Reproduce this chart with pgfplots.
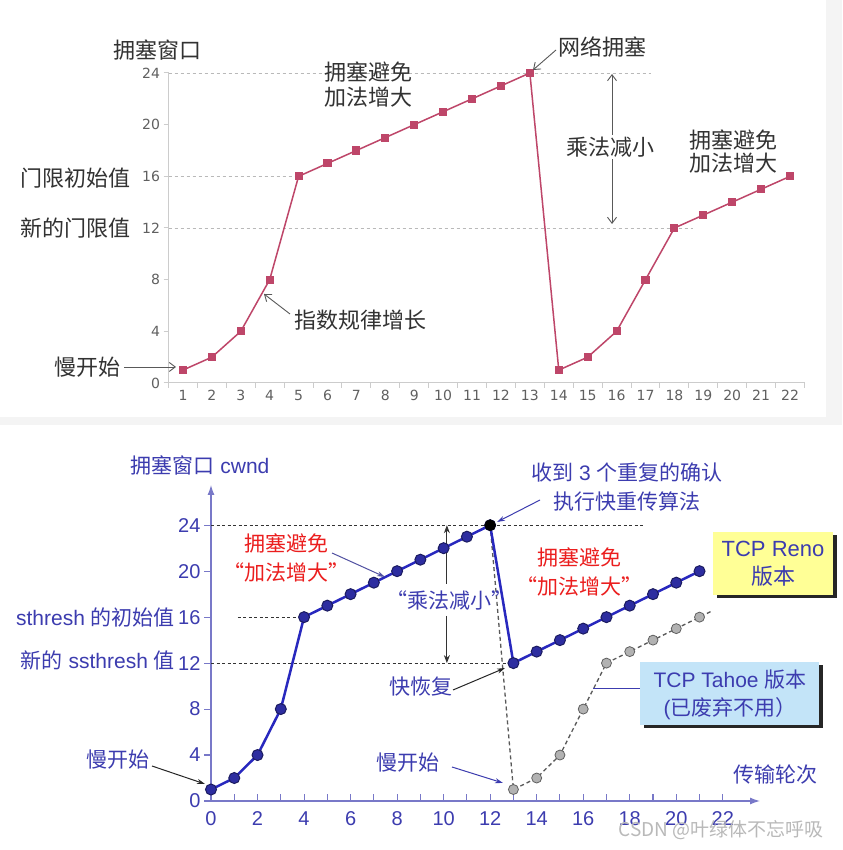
\documentclass[border=0pt]{standalone}
\usepackage{pgfplots}
\pgfplotsset{compat=1.18}
\usetikzlibrary{arrows.meta}
\usepackage{fontspec}
\setmainfont{Liberation Sans}
\newfontfamily\cjk{Noto Sans CJK SC}
\newfontfamily\dvs{DejaVu Sans}
\definecolor{topline}{RGB}{190,70,105}
\definecolor{topgray}{RGB}{50,50,50}
\definecolor{blueT}{RGB}{60,60,175}
\definecolor{redT}{RGB}{235,30,30}
\definecolor{renoline}{RGB}{40,40,190}
\definecolor{renomark}{RGB}{45,45,160}
\definecolor{axisblue}{RGB}{120,120,200}
\definecolor{renobox}{RGB}{255,255,150}
\definecolor{tahoebox}{RGB}{195,228,248}
\begin{document}
\begin{tikzpicture}[x=1pt,y=1pt]
\path[use as bounding box] (0,0) rectangle (842,850);
\fill[white] (0,0) rectangle (842,850);
\fill[gray!9] (0,425) rectangle (842,433);
\fill[gray!9] (826,433) rectangle (842,850);

% ---------------- top chart ----------------
\begin{axis}[at={(168.5pt,467pt)}, anchor=south west, scale only axis,
  width=636pt, height=310pt,
  xmin=0.5, xmax=22.5, ymin=0, ymax=24, clip=false,
  axis x line*=bottom, axis y line*=left,
  axis line style={draw=gray!40, line width=1pt},
  xtick={0.5,1.5,...,22.5}, xticklabels={},
  extra x ticks={1,...,22},
  extra x tick style={major tick length=0pt},
  ytick={0,4,...,24},
  tick align=outside, major tick length=5pt,
  tick style={draw=gray!40, line width=1pt},
  ticklabel style={font=\dvs\fontsize{14}{16}\selectfont, text=gray!75!black},
  /pgf/number format/assume math mode=true,
  xticklabel style={yshift=-4pt},
]
\draw[gray!55, dash pattern=on 3pt off 3pt, line width=0.8pt] (axis cs:0.5,24) -- (axis cs:17.2,24);
\draw[gray!55, dash pattern=on 3pt off 3pt, line width=0.8pt] (axis cs:0.5,16) -- (axis cs:5,16);
\draw[gray!55, dash pattern=on 3pt off 3pt, line width=0.8pt] (axis cs:0.5,12) -- (axis cs:18.65,12);
\addplot[topline, line width=1.5pt, mark=square*, mark size=3.3pt, mark options={fill=topline}]
 coordinates {(1,1)(2,2)(3,4)(4,8)(5,16)(6,17)(7,18)(8,19)(9,20)(10,21)(11,22)(12,23)(13,24)
 (14,1)(15,2)(16,4)(17,8)(18,12)(19,13)(20,14)(21,15)(22,16)};
\end{axis}

\begin{scope}[every node/.style={text=topgray, font=\cjk\fontsize{22}{25}\selectfont, inner sep=1pt}]
\node at (157,800) {拥塞窗口};
\node[anchor=east] at (132,672) {门限初始值};
\node[anchor=east] at (132,622) {新的门限值};
\node[anchor=east] at (122,483) {慢开始};
\node[anchor=west] at (293,530) {指数规律增长};
\node[align=center] at (368,765) {拥塞避免\\加法增大};
\node at (602,803) {网络拥塞};
\node[align=center, font=\cjk\fontsize{22}{23}\selectfont] at (733,698) {拥塞避免\\加法增大};
\end{scope}
\begin{scope}[gray!70!black, line width=0.9pt, -{Straight Barb[length=6pt,width=9pt]}]
\draw (124,483) -- (176,483);
\draw (290,536) -- (264,556);
\draw (556,800) -- (533,780);
\draw[{Straight Barb[length=6pt,width=9pt]}-{Straight Barb[length=6pt,width=9pt]}] (612,776) -- (612,626);
\end{scope}
\node[fill=white, text=topgray, font=\cjk\fontsize{22}{25}\selectfont, inner sep=2pt] at (610,703) {乘法减小};

% ---------------- bottom chart ----------------
\begin{axis}[at={(211pt,49pt)}, anchor=south west, scale only axis,
  width=549pt, height=316pt,
  xmin=0, xmax=23.6, ymin=0, ymax=27.5, clip=false,
  axis x line=bottom, axis y line=left,
  axis line style={draw=axisblue, line width=1.3pt, -{Latex[length=10pt,width=7pt]}},
  xtick={0,...,22},
  xticklabels={0,,2,,4,,6,,8,,10,,12,,14,,16,,18,,20,,22},
  ytick={0,4,...,24},
  tick align=outside, major tick length=7pt,
  tick style={draw=axisblue, line width=1.1pt},
  xtick style={yshift=7pt},
  ticklabel style={font=\fontsize{20}{22}\selectfont, text=blueT},
  /pgf/number format/assume math mode=true,
]
\draw[black!80, dash pattern=on 3pt off 2.5pt, line width=1pt] (axis cs:0,24) -- (axis cs:18.65,24);
\draw[black!80, dash pattern=on 3pt off 2.5pt, line width=1pt] (axis cs:1.16,16) -- (axis cs:3.75,16);
\draw[black!80, dash pattern=on 3pt off 2.5pt, line width=1pt] (axis cs:0,12) -- (axis cs:12.85,12);
\draw[black!80, line width=1pt, {Stealth[length=8pt,width=6pt]}-] (axis cs:10.14,24) -- (axis cs:10.14,18.9);
\draw[black!80, line width=1pt, -{Stealth[length=8pt,width=6pt]}] (axis cs:10.14,16.1) -- (axis cs:10.14,12);
\addplot[gray!70!black, dash pattern=on 4pt off 3pt, line width=1.3pt]
 coordinates {(12,24)(13,1)(14,2)(15,4)(16,8)(17,12)(18,13)(19,14)(20,15)(21,16)(21.5,16.5)};
\addplot[only marks, mark=*, mark size=5pt, mark options={fill=gray!60, draw=gray!75!black, line width=0.8pt}]
 coordinates {(13,1)(14,2)(15,4)(16,8)(17,12)(18,13)(19,14)(20,15)(21,16)};
\addplot[renoline, line width=2.5pt, mark=*, mark size=5.5pt, mark options={fill=renomark, draw=renomark!60!black, line width=1pt}]
 coordinates {(0,1)(1,2)(2,4)(3,8)(4,16)(5,17)(6,18)(7,19)(8,20)(9,21)(10,22)(11,23)(12,24)
 (13,12)(14,13)(15,14)(16,15)(17,16)(18,17)(19,18)(20,19)(21,20)};
\addplot[only marks, mark=*, mark size=5.5pt, mark options={fill=black, draw=black}] coordinates {(12,24)};
\end{axis}

\node[text=blueT, font=\cjk\fontsize{21}{25}\selectfont, inner sep=1pt] at (449,250) {“乘法减小”};

\begin{scope}[every node/.style={text=blueT, font=\fontsize{21}{25}\selectfont, inner sep=1pt}]
\node at (200,385) {{\cjk 拥塞窗口} cwnd};
\node[anchor=east] at (176,233) {sthresh {\cjk 的初始值}};
\node[anchor=east] at (176,190) {{\cjk 新的} ssthresh {\cjk 值}};
\node at (118,90) {\cjk 慢开始};
\node[align=center, font=\fontsize{21}{29}\selectfont] at (627,363) {{\cjk 收到} 3 {\cjk 个重复的确认}\\{\cjk 执行快重传算法}};
\node at (421,163) {\cjk 快恢复};
\node at (408,87) {\cjk 慢开始};
\node at (775,75) {\cjk 传输轮次};
\end{scope}
\node[text=redT, align=center, font=\cjk\fontsize{21}{29}\selectfont] at (286,292.5) {拥塞避免\\“加法增大”};
\node[text=redT, align=center, font=\cjk\fontsize{21}{29}\selectfont] at (579,278.5) {拥塞避免\\“加法增大”};

\draw[black!85, line width=1pt, -{Stealth[length=8pt,width=5pt]}] (152,84) -- (205,66);
\draw[black!85, line width=1pt, -{Stealth[length=8pt,width=5pt]}] (453,160) -- (505,182);
\draw[blueT, line width=1pt, -{Stealth[length=8pt,width=5pt]}] (452,83) -- (503,67);
\draw[blueT!70!gray, line width=1pt, -{Stealth[length=8pt,width=5pt]}] (332,297) -- (385,273);
\draw[blueT, line width=1pt, -{Stealth[length=8pt,width=5pt]}] (540,350) -- (497,328);
\draw[blueT, line width=1pt] (593,161) -- (652,161);

% boxes
\fill[black!85] (717,252) rectangle (837,315);
\fill[renobox] (713,255) rectangle (833,318);
\node[text=blueT, font=\fontsize{22}{28}\selectfont, align=center] at (773,286.5) {TCP Reno\\{\cjk 版本}};
\fill[black!85] (644,122) rectangle (823,185);
\fill[tahoebox] (640,125) rectangle (819,188);
\node[text=blueT, font=\fontsize{21}{28}\selectfont, align=center] at (730,155) {TCP Tahoe {\cjk 版本}\\({\cjk 已废弃不用）}};

\node[text=gray!55, font=\cjk\fontsize{19}{22}\selectfont] at (721,20) {CSDN @叶绿体不忘呼吸};
\end{tikzpicture}
\end{document}
